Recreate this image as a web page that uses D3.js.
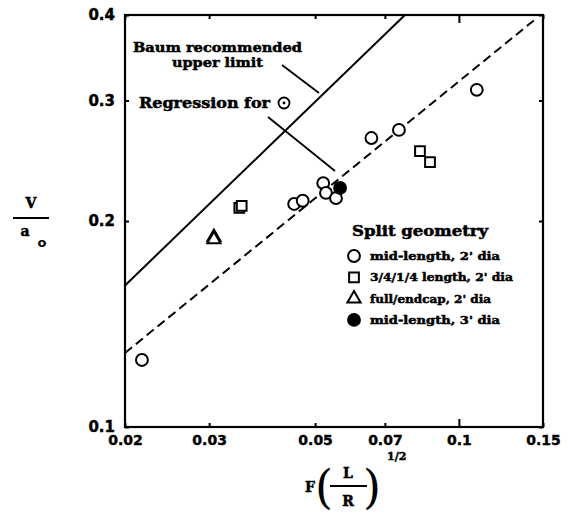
<!DOCTYPE html>
<html><head><meta charset="utf-8">
<script src="https://cdn.jsdelivr.net/npm/d3@7"></script>
<style>
body{margin:0;background:#fff;}
svg{display:block;}
text{fill:#000;}
</style></head>
<body>
<svg id="chart" width="568" height="514"></svg>
<script>
const xTicks = [0.02, 0.03, 0.05, 0.07, 0.1, 0.15];
const xTickLabels = ["0.02", "0.03", "0.05", "0.07", "0.1", "0.15"];
const yTicks = [0.1, 0.2, 0.3, 0.4];
const yTickLabels = ["0.1", "0.2", "0.3", "0.4"];

// Split geometry series: [F(L/R)^1/2, V/a0]
const midLength2 = [[0.0217,0.1253],[0.0452,0.2118],[0.0471,0.2141],[0.0520,0.2272],[0.0527,0.2198],[0.0553,0.2160],[0.0656,0.2644],[0.0749,0.2717],[0.109,0.311]];
const quarterLength2 = [[0.0347,0.2090],[0.0351,0.2104],[0.0829,0.2530],[0.0870,0.2439]];
const fullEndcap2 = [[0.0307,0.1894],[0.0307,0.1880]];
const midLength3 = [[0.0564,0.2235]];

const baumLine = [[0.02,0.161],[0.0771,0.4]];
const regressionLine = [[0.02,0.1283],[0.1456,0.396]];

const legendLabels = ["mid-length, 2' dia", "3/4/1/4 length, 2' dia", "full/endcap, 2' dia", "mid-length, 3' dia"];

const svg = d3.select("#chart");
const L = 125, R = 543, T = 15, B = 427;
const x = d3.scaleLog().domain([0.02, 0.15]).range([L, R]);
const y = d3.scaleLog().domain([0.1, 0.4]).range([B, T]);

const serif = "'DejaVu Serif', serif";
const sans = "'DejaVu Sans', sans-serif";

// frame
svg.append("rect").attr("x", L).attr("y", T).attr("width", R - L).attr("height", B - T)
  .attr("fill", "none").attr("stroke", "#000").attr("stroke-width", 2.2);

// axes
const xb = svg.append("g").attr("transform", `translate(0,${B})`)
  .call(d3.axisBottom(x).tickValues(xTicks).tickFormat((d,i)=>xTickLabels[i]).tickSizeInner(-4).tickSizeOuter(0).tickPadding(8));
const xt = svg.append("g").attr("transform", `translate(0,${T})`)
  .call(d3.axisTop(x).tickValues(xTicks).tickFormat("").tickSizeInner(-4).tickSizeOuter(0));
const yl = svg.append("g").attr("transform", `translate(${L},0)`)
  .call(d3.axisLeft(y).tickValues(yTicks).tickFormat((d,i)=>yTickLabels[i]).tickSizeInner(-4).tickSizeOuter(0).tickPadding(10));
const yr = svg.append("g").attr("transform", `translate(${R},0)`)
  .call(d3.axisRight(y).tickValues(yTicks).tickFormat("").tickSizeInner(-4).tickSizeOuter(0));
[xb, xt, yl, yr].forEach(g => {
  g.select(".domain").remove();
  g.selectAll(".tick line").attr("stroke", "#000").attr("stroke-width", 2);
  g.selectAll(".tick text").attr("font-family", sans).attr("font-weight", "bold").attr("font-size", 14)
    .attr("fill", "#000").attr("stroke", "#000").attr("stroke-width", 0.4);
});
xb.selectAll(".tick").filter(d => d === 0.1).select("line").attr("y2", -8);
xt.selectAll(".tick").filter(d => d === 0.1).select("line").attr("y2", 8);
yl.selectAll(".tick text").attr("font-size", 15);

// lines
const line = d3.line().x(d => x(d[0])).y(d => y(d[1]));
svg.append("path").datum(baumLine).attr("d", line).attr("fill", "none").attr("stroke", "#000").attr("stroke-width", 2);
svg.append("path").datum(regressionLine).attr("d", line).attr("fill", "none").attr("stroke", "#000")
  .attr("stroke-width", 2).attr("stroke-dasharray", "9,5");

// markers
const sym = (type, size) => d3.symbol().type(type).size(size);
function drawSeries(data, type, size, filled) {
  svg.append("g").selectAll("path").data(data).join("path")
    .attr("transform", d => `translate(${x(d[0])},${y(d[1])})`)
    .attr("d", sym(type, size)())
    .attr("fill", filled ? "#000" : "#fff")
    .attr("stroke", "#000").attr("stroke-width", 2);
}
drawSeries(midLength2, d3.symbolCircle, 110, false);
drawSeries(quarterLength2, d3.symbolSquare, 95, false);
drawSeries(fullEndcap2, d3.symbolTriangle, 75, false);
drawSeries(midLength3, d3.symbolCircle, 110, true);

function boldText(xp, yp, size, len, str) {
  const t = svg.append("text").attr("x", xp).attr("y", yp).attr("font-family", serif).attr("font-weight", "bold")
    .attr("font-size", size).attr("stroke", "#000").attr("stroke-width", 0.5).text(str);
  if (len) t.attr("textLength", len).attr("lengthAdjust", "spacingAndGlyphs");
  return t;
}

// annotations
boldText(133, 52, 13, 169, "Baum recommended");
boldText(172, 67, 13, 91, "upper limit");
boldText(139, 108, 14, 131, "Regression for");
svg.append("circle").attr("cx", 284).attr("cy", 103).attr("r", 5.5).attr("fill", "none").attr("stroke", "#000").attr("stroke-width", 1.8);
svg.append("circle").attr("cx", 284).attr("cy", 103).attr("r", 1.4).attr("fill", "#000");
svg.append("line").attr("x1", 282).attr("y1", 65).attr("x2", 319).attr("y2", 93).attr("stroke", "#000").attr("stroke-width", 1.8);
svg.append("line").attr("x1", 268).attr("y1", 117).attr("x2", 335).attr("y2", 171).attr("stroke", "#000").attr("stroke-width", 1.8);

// legend
boldText(352, 236, 14, 136, "Split geometry");
const legTypes = [[d3.symbolCircle, 110, false], [d3.symbolSquare, 95, false], [d3.symbolTriangle, 75, false], [d3.symbolCircle, 110, true]];
const legLens = [130, 143, 121, 130];
legendLabels.forEach((lab, i) => {
  const cy = 256 + i * 21.3;
  svg.append("path").attr("transform", `translate(354,${cy})`).attr("d", sym(legTypes[i][0], legTypes[i][1])())
    .attr("fill", legTypes[i][2] ? "#000" : "#fff").attr("stroke", "#000").attr("stroke-width", 2);
  boldText(370, cy + 4, 11, legLens[i], lab);
});

// y-axis label V / a_o
boldText(31, 208, 14, null, "V").attr("text-anchor", "middle");
svg.append("line").attr("x1", 13).attr("x2", 49).attr("y1", 218).attr("y2", 218).attr("stroke", "#000").attr("stroke-width", 2);
boldText(25, 236, 14, null, "a").attr("text-anchor", "middle");
svg.append("text").attr("x", 42).attr("y", 247).attr("text-anchor", "middle").attr("font-family", sans)
  .attr("font-weight", "bold").attr("font-size", 13).text("o");

// x-axis label F (L/R)^(1/2)
boldText(310, 492, 14, null, "F").attr("text-anchor", "middle");
svg.append("text").attr("x", 324).attr("y", 503).attr("text-anchor", "middle").attr("font-family", serif)
  .attr("font-size", 46).attr("font-weight", "normal").text("(");
svg.append("text").attr("x", 372).attr("y", 503).attr("text-anchor", "middle").attr("font-family", serif)
  .attr("font-size", 46).attr("font-weight", "normal").text(")");
boldText(348, 478, 14, null, "L").attr("text-anchor", "middle");
svg.append("line").attr("x1", 330).attr("x2", 367).attr("y1", 486).attr("y2", 486).attr("stroke", "#000").attr("stroke-width", 2);
boldText(348, 506, 14, null, "R").attr("text-anchor", "middle");
boldText(387, 460, 11, null, "1/2");
</script>
</body></html>
